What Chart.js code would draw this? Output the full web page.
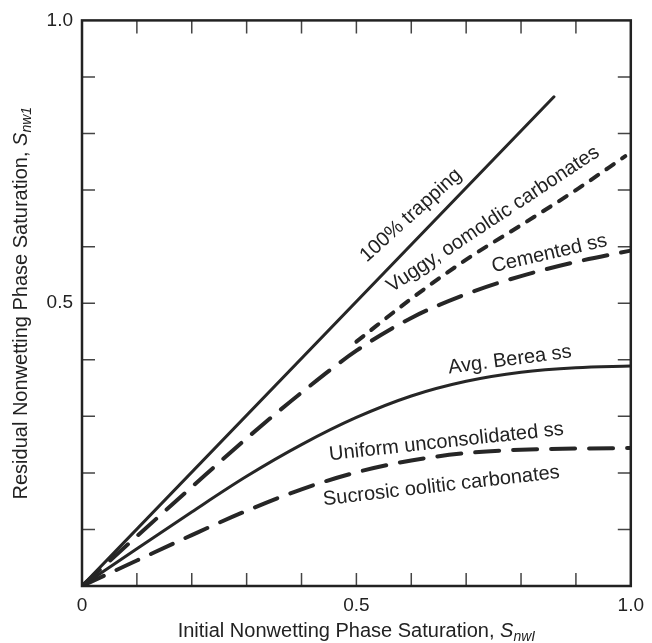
<!DOCTYPE html>
<html lang="en">
<head>
<meta charset="UTF-8">
<title>Residual vs Initial Nonwetting Phase Saturation</title>
<script src="https://cdn.jsdelivr.net/npm/chart.js"></script>
<style>
  body { margin: 0; background: #fff; }
  #wrap { width: 652px; height: 643px; }
</style>
</head>
<body>
<div id="wrap"><canvas id="satChart" width="652" height="643"></canvas></div>
<script>
// initial (x) vs residual (y) nonwetting saturation for each rock type
const trappingX = [0, 0.86];
const trappingY = [0, 0.865];
const vuggyX = [0.5, 0.6, 0.7, 0.8, 0.9, 0.99];
const vuggyY = [0.432, 0.508, 0.577, 0.638, 0.7, 0.76];
const cementedX = [0, 0.1, 0.2, 0.3, 0.4, 0.5, 0.6, 0.7, 0.8, 0.9, 1.0];
const cementedY = [0, 0.088, 0.175, 0.261, 0.342, 0.416, 0.474, 0.516, 0.548, 0.573, 0.593];
const bereaX = [0, 0.1, 0.2, 0.3, 0.4, 0.5, 0.6, 0.7, 0.8, 0.9, 1.0];
const bereaY = [0, 0.066, 0.131, 0.194, 0.25, 0.298, 0.336, 0.362, 0.378, 0.386, 0.389];
const uniformX = [0, 0.1, 0.2, 0.3, 0.4, 0.5, 0.6, 0.7, 0.8, 0.9, 1.0];
const uniformY = [0, 0.045, 0.09, 0.133, 0.171, 0.201, 0.222, 0.235, 0.241, 0.243, 0.244];

const tickValues = [0, 0.5, 1];
const xTickLabels = ['0', '0.5', '1.0'];
const yTickLabels = ['', '0.5', '1.0'];

const FONT = '"Liberation Sans", Arial, sans-serif';
const INK = '#222';

function pts(xs, ys) {
  return xs.map((x, i) => ({ x: x, y: ys[i] }));
}

// curve captions; x/y is the middle of the text baseline, in data units
const captions = [
  { text: '100% trapping', x: 0.606, y: 0.648, angle: -42 },
  { text: 'Vuggy, oomoldic carbonates', x: 0.7545, y: 0.64, angle: -33.4 },
  { text: 'Cemented ss', x: 0.854, y: 0.578, angle: -13 },
  { text: 'Avg. Berea ss', x: 0.781, y: 0.39, angle: -7.5 },
  { text: 'Uniform unconsolidated ss', x: 0.665, y: 0.245, angle: -6.2 },
  { text: 'Sucrosic oolitic carbonates', x: 0.656, y: 0.167, angle: -6.6 }
];

function drawTitle(ctx, main, sub, cx, cy, rot) {
  ctx.save();
  ctx.translate(cx, cy);
  ctx.rotate(rot);
  ctx.fillStyle = INK;
  ctx.textBaseline = 'alphabetic';
  ctx.textAlign = 'left';
  const fMain = '20px ' + FONT, fS = 'italic 20px ' + FONT, fSub = 'italic 14px ' + FONT;
  ctx.font = fMain; const w1 = ctx.measureText(main).width;
  ctx.font = fS; const w2 = ctx.measureText('S').width;
  ctx.font = fSub; const w3 = ctx.measureText(sub).width;
  let x0 = -(w1 + w2 + w3) / 2;
  ctx.font = fMain; ctx.fillText(main, x0, 7);
  x0 += w1;
  ctx.font = fS; ctx.fillText('S', x0, 7);
  x0 += w2;
  ctx.font = fSub; ctx.fillText(sub, x0, 11);
  ctx.restore();
}

const framePlugin = {
  id: 'frame',
  afterDatasetsDraw(chart) {
    const { ctx, scales: { x, y } } = chart;
    ctx.save();
    ctx.fillStyle = INK;
    ctx.font = '20px ' + FONT;
    ctx.textAlign = 'center';
    ctx.textBaseline = 'alphabetic';
    captions.forEach(c => {
      ctx.save();
      ctx.translate(x.getPixelForValue(c.x), y.getPixelForValue(c.y));
      ctx.rotate(c.angle * Math.PI / 180);
      ctx.fillText(c.text, 0, 0);
      ctx.restore();
    });
    ctx.restore();
  },
  afterDraw(chart) {
    const { ctx, chartArea: a, scales: { x, y } } = chart;
    ctx.save();
    // inward ticks every 0.1 on all four sides
    ctx.strokeStyle = '#444';
    ctx.lineWidth = 1.5;
    const len = 13;
    ctx.beginPath();
    for (let i = 1; i < 10; i++) {
      const px = x.getPixelForValue(i / 10);
      const py = y.getPixelForValue(i / 10);
      ctx.moveTo(px, a.bottom); ctx.lineTo(px, a.bottom - len);
      ctx.moveTo(px, a.top); ctx.lineTo(px, a.top + len);
      ctx.moveTo(a.left, py); ctx.lineTo(a.left + len, py);
      ctx.moveTo(a.right, py); ctx.lineTo(a.right - len, py);
    }
    ctx.stroke();
    ctx.strokeStyle = '#222';
    ctx.lineWidth = 2.5;
    ctx.strokeRect(a.left, a.top, a.width, a.height);
    ctx.restore();

    drawTitle(ctx, 'Initial Nonwetting Phase Saturation, ', 'nwI', (a.left + a.right) / 2, 630, 0);
    drawTitle(ctx, 'Residual Nonwetting Phase Saturation, ', 'nw1', 20, (a.top + a.bottom) / 2, -Math.PI / 2);
  }
};

const solid = { borderColor: '#262626', borderWidth: 3, pointRadius: 0, fill: false,
                cubicInterpolationMode: 'monotone', borderCapStyle: 'round' };
const longDash = Object.assign({}, solid, { borderWidth: 4, borderDash: [24, 14] });
const shortDash = Object.assign({}, solid, { borderWidth: 4, borderDash: [9, 10] });

new Chart(document.getElementById('satChart'), {
  type: 'line',
  data: {
    datasets: [
      Object.assign({ label: '100% trapping', data: pts(trappingX, trappingY) }, solid),
      Object.assign({ label: 'Vuggy, oomoldic carbonates', data: pts(vuggyX, vuggyY) }, shortDash),
      Object.assign({ label: 'Cemented ss', data: pts(cementedX, cementedY) }, longDash),
      Object.assign({ label: 'Avg. Berea ss', data: pts(bereaX, bereaY) }, solid),
      Object.assign({ label: 'Uniform unconsolidated ss', data: pts(uniformX, uniformY) }, longDash)
    ]
  },
  options: {
    responsive: false,
    animation: false,
    devicePixelRatio: 1,
    layout: { padding: { top: 16, right: 14, left: 0, bottom: 0 } },
    plugins: { legend: { display: false }, tooltip: { enabled: false } },
    scales: {
      x: {
        type: 'linear', min: 0, max: 1,
        grid: { display: false, drawTicks: false },
        border: { display: false },
        ticks: {
          stepSize: 0.5, padding: 8, color: INK, maxRotation: 0,
          font: { family: FONT, size: 19 },
          callback: v => xTickLabels[tickValues.indexOf(v)] ?? ''
        },
        afterFit: s => { s.height = 57; }
      },
      y: {
        type: 'linear', min: 0, max: 1,
        grid: { display: false, drawTicks: false },
        border: { display: false },
        ticks: {
          stepSize: 0.5, padding: 9, color: INK,
          font: { family: FONT, size: 19 },
          callback: v => yTickLabels[tickValues.indexOf(v)] ?? ''
        },
        afterFit: s => { s.width = 82; }
      }
    }
  },
  plugins: [framePlugin]
});
</script>
</body>
</html>
